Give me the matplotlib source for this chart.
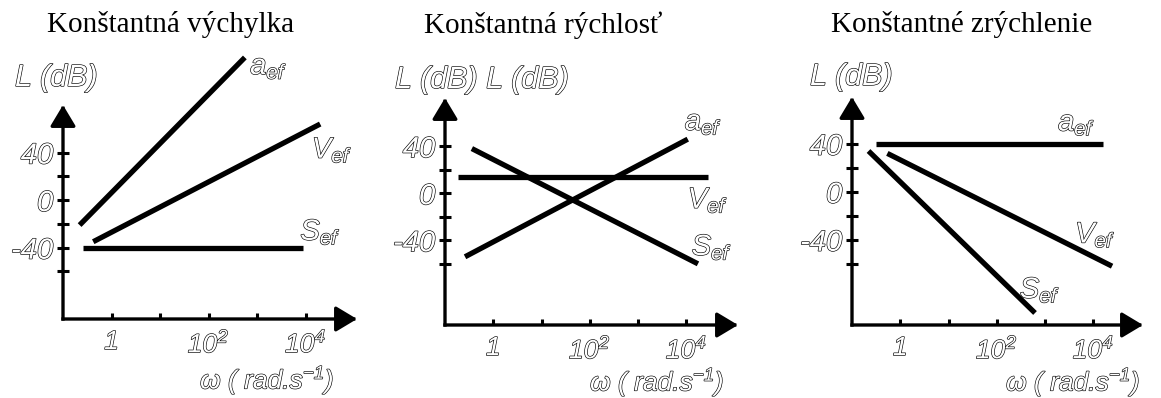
import numpy as np
import matplotlib.pyplot as plt
import matplotlib.patheffects as pe
from matplotlib.ticker import FixedLocator, FixedFormatter, NullLocator

plt.rcParams['font.family'] = 'Liberation Sans'
plt.rcParams['mathtext.fontset'] = 'custom'
plt.rcParams['mathtext.it'] = 'Liberation Sans:italic'
plt.rcParams['mathtext.rm'] = 'Liberation Sans:italic'
plt.rcParams['mathtext.default'] = 'it'

W, H = 1161, 398

titles = ['Konštantná výchylka', 'Konštantná rýchlosť', 'Konštantné zrýchlenie']
ylabels = ['L (dB)', 'L (dB) L (dB)', 'L (dB)']
xlabel = 'ω ( rad.s$^{-1}$)'
names = [r'$a_{ef}$', r'$V_{ef}$', r'$S_{ef}$']

yticks = [-60, -40, -20, 0, 20, 40]
ytick_labels = ['', '-40', '', '0', '', '40']
xticks = [1, 10, 100, 1000, 10000]
xtick_labels = ['1', '', r'$10^2$', '', r'$10^4$']

# end points of a_ef, V_ef, S_ef: omega (rad/s) and level L (dB)
vych_w = [[0.22, 560], [0.42, 20000], [0.26, 8900]]
vych_L = [[-21, 120], [-35, 64], [-40, -40]]
rych_w = [[0.26, 10700], [0.19, 28200], [0.36, 17400]]
rych_L = [[-54, 46], [14, 14], [38, -60]]
zrych_w = [[0.32, 15800], [0.54, 24500], [0.22, 620]]
zrych_L = [[40, 40], [32, -62], [34, -101]]

# where the a_ef / V_ef / S_ef names sit (omega, dB)
vych_name_w = [720, 13500, 7800]
vych_name_L = [112, 42, -27]
rych_name_w = [9300, 10700, 12900]
rych_name_L = [60, -6, -46]
zrych_name_w = [1860, 4200, 300]
zrych_name_L = [57, -36, -82]

panels = [
    (vych_w, vych_L, vych_name_w, vych_name_L),
    (rych_w, rych_L, rych_name_w, rych_name_L),
    (zrych_w, zrych_L, zrych_name_w, zrych_name_L),
]

# axis origin and arrow tips in pixels: x0, y0, x_tip, y_tip
boxes = [(63, 319, 357, 105), (445, 325, 738, 98), (852, 325, 1143, 97)]
xlims = [(0.1, 10 ** 5.06), (0.1, 10 ** 5.07), (0.1, 10 ** 5.03)]
ylims = [(-100, 80), (-112, 81), (-111, 79)]
title_pos = [(171, 25), (543, 25), (962, 25)]
ylabel_pos = [(15, 78), (395, 80), (810, 77)]
xlabel_pos = [(267, 380), (657, 382), (1073, 382)]

fx = [pe.withStroke(linewidth=0.9, foreground='black')]


def hollow(t):
    t.set_color('white')
    t.set_path_effects(fx)
    t.set_fontstyle('italic')


fig = plt.figure(figsize=(W / 100, H / 100), dpi=100)
fig.patch.set_facecolor('white')

for i, (ws, Ls, nw, nL) in enumerate(panels):
    x0, y0, x1, y1 = boxes[i]
    ax = fig.add_axes([x0 / W, 1 - y0 / H, (x1 - x0) / W, (y0 - y1) / H])
    ax.set_xscale('log')
    ax.set_xlim(xlims[i])
    ax.set_ylim(ylims[i])
    ax.patch.set_alpha(0)
    for sp in ax.spines.values():
        sp.set_visible(False)

    arrow = dict(arrowstyle='-|>,head_length=1.0,head_width=0.6', lw=2.4,
                 color='black', mutation_scale=13, shrinkA=0, shrinkB=0,
                 capstyle='projecting')
    ax.annotate('', xy=(1, 0), xytext=(0, 0), xycoords='axes fraction', arrowprops=arrow)
    ax.annotate('', xy=(0, 1), xytext=(0, 0), xycoords='axes fraction', arrowprops=arrow)

    ax.yaxis.set_major_locator(FixedLocator(yticks))
    ax.yaxis.set_major_formatter(FixedFormatter(ytick_labels))
    ax.xaxis.set_major_locator(FixedLocator(xticks))
    ax.xaxis.set_major_formatter(FixedFormatter(xtick_labels))
    ax.xaxis.set_minor_locator(NullLocator())
    ax.tick_params(axis='y', direction='inout', length=8, width=2.2, pad=3, labelsize=21)
    ax.tick_params(axis='x', direction='in', length=4.5, width=2.2, pad=8, labelsize=19)
    for lbl in ax.get_xticklabels() + ax.get_yticklabels():
        hollow(lbl)

    for k in range(3):
        ax.plot(ws[k], Ls[k], color='black', lw=3.8, solid_capstyle='butt', clip_on=False)
        t = ax.text(nw[k], nL[k], names[k], fontsize=21, ha='left', va='center')
        hollow(t)

    tx, ty = title_pos[i]
    fig.text(tx / W, 1 - ty / H, titles[i], family='Liberation Serif', fontsize=21,
             ha='center', va='center')
    lx, ly = ylabel_pos[i]
    hollow(fig.text(lx / W, 1 - ly / H, ylabels[i], fontsize=22, ha='left', va='center'))
    wx, wy = xlabel_pos[i]
    hollow(fig.text(wx / W, 1 - wy / H, xlabel, fontsize=19, ha='center', va='center'))

fig.savefig('out.png', dpi=100, facecolor='white')
